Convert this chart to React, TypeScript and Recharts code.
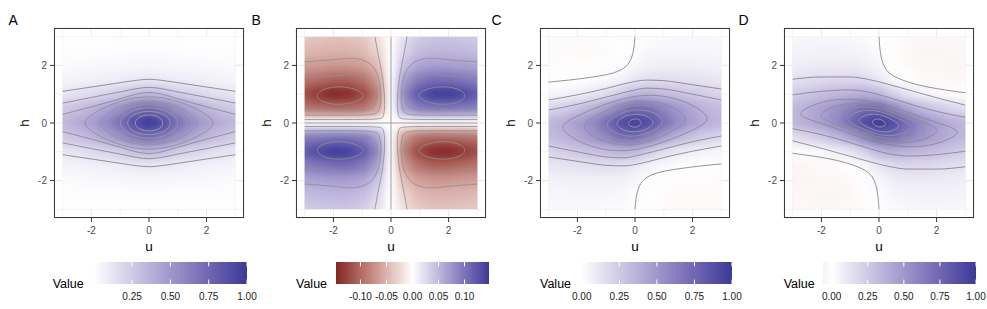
import React from 'react';
import { ScatterChart, Scatter, XAxis, YAxis, CartesianGrid } from 'recharts';

type P = [number, number];

// sample grid of the fields (u across, h from top to bottom)
const U_GRID = [-3, -2.5, -2, -1.5, -1, -0.5, 0, 0.5, 1, 1.5, 2, 2.5, 3];
const H_GRID = [3, 2.5, 2, 1.5, 1, 0.5, 0, -0.5, -1, -1.5, -2, -2.5, -3];

const VALUES_A = [
  [0.005, 0.005, 0.005, 0.005, 0.005, 0.005, 0.005, 0.005, 0.005, 0.005, 0.005, 0.005, 0.005],
  [0.01, 0.01, 0.01, 0.01, 0.012, 0.015, 0.015, 0.015, 0.012, 0.01, 0.01, 0.01, 0.01],
  [0.02, 0.025, 0.03, 0.03, 0.035, 0.04, 0.04, 0.04, 0.035, 0.03, 0.03, 0.025, 0.02],
  [0.05, 0.06, 0.07, 0.08, 0.09, 0.1, 0.11, 0.1, 0.09, 0.08, 0.07, 0.06, 0.05],
  [0.12, 0.14, 0.17, 0.2, 0.24, 0.3, 0.34, 0.3, 0.24, 0.2, 0.17, 0.14, 0.12],
  [0.25, 0.29, 0.35, 0.43, 0.53, 0.66, 0.74, 0.66, 0.53, 0.43, 0.35, 0.29, 0.25],
  [0.34, 0.39, 0.46, 0.56, 0.71, 0.9, 1.0, 0.9, 0.71, 0.56, 0.46, 0.39, 0.34],
  [0.25, 0.29, 0.35, 0.43, 0.53, 0.66, 0.74, 0.66, 0.53, 0.43, 0.35, 0.29, 0.25],
  [0.12, 0.14, 0.17, 0.2, 0.24, 0.3, 0.34, 0.3, 0.24, 0.2, 0.17, 0.14, 0.12],
  [0.05, 0.06, 0.07, 0.08, 0.09, 0.1, 0.11, 0.1, 0.09, 0.08, 0.07, 0.06, 0.05],
  [0.02, 0.025, 0.03, 0.03, 0.035, 0.04, 0.04, 0.04, 0.035, 0.03, 0.03, 0.025, 0.02],
  [0.01, 0.01, 0.01, 0.01, 0.012, 0.015, 0.015, 0.015, 0.012, 0.01, 0.01, 0.01, 0.01],
  [0.005, 0.005, 0.005, 0.005, 0.005, 0.005, 0.005, 0.005, 0.005, 0.005, 0.005, 0.005, 0.005],
];

const VALUES_B = [
  [-0.036, -0.038, -0.04, -0.04, -0.035, -0.022, 0, 0.022, 0.035, 0.04, 0.04, 0.038, 0.036],
  [-0.046, -0.048, -0.05, -0.05, -0.045, -0.03, 0, 0.03, 0.045, 0.05, 0.05, 0.048, 0.046],
  [-0.063, -0.066, -0.068, -0.068, -0.063, -0.045, 0, 0.045, 0.063, 0.068, 0.068, 0.066, 0.063],
  [-0.092, -0.098, -0.103, -0.105, -0.095, -0.07, 0, 0.07, 0.095, 0.105, 0.103, 0.098, 0.092],
  [-0.12, -0.135, -0.146, -0.143, -0.125, -0.09, 0, 0.09, 0.125, 0.143, 0.146, 0.135, 0.12],
  [-0.093, -0.097, -0.1, -0.1, -0.095, -0.07, 0, 0.07, 0.095, 0.1, 0.1, 0.097, 0.093],
  [0, 0, 0, 0, 0, 0, 0, 0, 0, 0, 0, 0, 0],
  [0.093, 0.097, 0.1, 0.1, 0.095, 0.07, 0, -0.07, -0.095, -0.1, -0.1, -0.097, -0.093],
  [0.12, 0.135, 0.146, 0.143, 0.125, 0.09, 0, -0.09, -0.125, -0.143, -0.146, -0.135, -0.12],
  [0.092, 0.098, 0.103, 0.105, 0.095, 0.07, 0, -0.07, -0.095, -0.105, -0.103, -0.098, -0.092],
  [0.063, 0.066, 0.068, 0.068, 0.063, 0.045, 0, -0.045, -0.063, -0.068, -0.068, -0.066, -0.063],
  [0.046, 0.048, 0.05, 0.05, 0.045, 0.03, 0, -0.03, -0.045, -0.05, -0.05, -0.048, -0.046],
  [0.036, 0.038, 0.04, 0.04, 0.035, 0.022, 0, -0.022, -0.035, -0.04, -0.04, -0.038, -0.036],
];

const VALUES_C = [
  [-0.018, -0.02, -0.021, -0.021, -0.018, -0.009, 0.005, 0.019, 0.028, 0.031, 0.031, 0.03, 0.028],
  [-0.02, -0.021, -0.023, -0.023, -0.017, -0.005, 0.015, 0.035, 0.041, 0.043, 0.043, 0.041, 0.04],
  [-0.021, -0.018, -0.014, -0.014, -0.006, 0.011, 0.04, 0.069, 0.076, 0.074, 0.074, 0.068, 0.061],
  [-0.01, -0.004, 0.003, 0.012, 0.028, 0.055, 0.11, 0.146, 0.152, 0.148, 0.137, 0.124, 0.11],
  [0.042, 0.052, 0.075, 0.107, 0.159, 0.242, 0.34, 0.359, 0.321, 0.293, 0.265, 0.228, 0.198],
  [0.19, 0.227, 0.285, 0.365, 0.468, 0.615, 0.74, 0.706, 0.592, 0.495, 0.415, 0.353, 0.311],
  [0.34, 0.39, 0.46, 0.56, 0.71, 0.89, 0.97, 0.89, 0.71, 0.56, 0.46, 0.39, 0.34],
  [0.311, 0.353, 0.415, 0.495, 0.592, 0.706, 0.74, 0.615, 0.468, 0.365, 0.285, 0.227, 0.19],
  [0.198, 0.228, 0.265, 0.293, 0.321, 0.359, 0.34, 0.242, 0.159, 0.107, 0.075, 0.052, 0.042],
  [0.11, 0.124, 0.137, 0.148, 0.152, 0.146, 0.11, 0.055, 0.028, 0.012, 0.003, -0.004, -0.01],
  [0.061, 0.068, 0.074, 0.074, 0.076, 0.069, 0.04, 0.011, -0.006, -0.014, -0.014, -0.018, -0.021],
  [0.04, 0.041, 0.043, 0.043, 0.041, 0.035, 0.015, -0.005, -0.017, -0.023, -0.023, -0.021, -0.02],
  [0.028, 0.03, 0.031, 0.031, 0.028, 0.019, 0.005, -0.009, -0.018, -0.021, -0.021, -0.02, -0.018],
];

const VALUES_D = [
  [0.039, 0.041, 0.043, 0.043, 0.038, 0.026, 0.005, -0.016, -0.028, -0.033, -0.033, -0.031, -0.029],
  [0.054, 0.056, 0.058, 0.058, 0.055, 0.044, 0.015, -0.014, -0.031, -0.038, -0.038, -0.036, -0.034],
  [0.08, 0.088, 0.095, 0.095, 0.095, 0.083, 0.04, -0.003, -0.025, -0.035, -0.035, -0.038, -0.04],
  [0.137, 0.153, 0.168, 0.18, 0.18, 0.167, 0.11, 0.034, 0.0, -0.02, -0.028, -0.033, -0.037],
  [0.234, 0.268, 0.309, 0.336, 0.359, 0.386, 0.34, 0.215, 0.121, 0.064, 0.031, 0.012, 0.006],
  [0.338, 0.382, 0.445, 0.525, 0.62, 0.727, 0.74, 0.594, 0.44, 0.335, 0.255, 0.198, 0.162],
  [0.34, 0.39, 0.46, 0.56, 0.71, 0.9, 1.0, 0.9, 0.71, 0.56, 0.46, 0.39, 0.34],
  [0.162, 0.198, 0.255, 0.335, 0.44, 0.594, 0.74, 0.727, 0.62, 0.525, 0.445, 0.382, 0.338],
  [0.006, 0.012, 0.031, 0.064, 0.121, 0.215, 0.34, 0.386, 0.359, 0.336, 0.309, 0.268, 0.234],
  [-0.037, -0.033, -0.028, -0.02, 0.0, 0.034, 0.11, 0.167, 0.18, 0.18, 0.168, 0.153, 0.137],
  [-0.04, -0.038, -0.035, -0.035, -0.025, -0.003, 0.04, 0.083, 0.095, 0.095, 0.095, 0.088, 0.08],
  [-0.034, -0.036, -0.038, -0.038, -0.031, -0.014, 0.015, 0.044, 0.055, 0.058, 0.058, 0.056, 0.054],
  [-0.029, -0.031, -0.033, -0.033, -0.028, -0.016, 0.005, 0.026, 0.038, 0.043, 0.043, 0.041, 0.039],
];

// contour lines
// A: upper halves of closed rings (right tip -> left tip) and upper open lines
const A_RING_09: P[] = [[0.5, 0], [0.43, 0.15], [0.25, 0.255], [0, 0.29], [-0.25, 0.255], [-0.43, 0.15], [-0.5, 0]];
const A_RING_08: P[] = [[0.78, 0], [0.66, 0.215], [0.38, 0.37], [0, 0.42], [-0.38, 0.37], [-0.66, 0.215], [-0.78, 0]];
const A_RING_07: P[] = [[1.05, 0], [0.88, 0.27], [0.5, 0.48], [0, 0.55], [-0.5, 0.48], [-0.88, 0.27], [-1.05, 0]];
const A_RING_06: P[] = [[1.4, 0], [1.13, 0.3], [0.68, 0.56], [0, 0.67], [-0.68, 0.56], [-1.13, 0.3], [-1.4, 0]];
const A_RING_05: P[] = [[1.78, 0], [1.45, 0.33], [0.86, 0.66], [0, 0.8], [-0.86, 0.66], [-1.45, 0.33], [-1.78, 0]];
const A_RING_04: P[] = [[2.36, 0], [1.95, 0.33], [1.4, 0.62], [0.7, 0.86], [0, 0.93], [-0.7, 0.86], [-1.4, 0.62], [-1.95, 0.33], [-2.36, 0]];
const A_LINE_03: P[] = [[-3, 0.3], [-2, 0.56], [-1, 0.84], [-0.45, 1.0], [0, 1.06], [0.45, 1.0], [1, 0.84], [2, 0.56], [3, 0.3]];
const A_LINE_02: P[] = [[-3, 0.69], [-2, 0.89], [-1, 1.08], [-0.45, 1.19], [0, 1.24], [0.45, 1.19], [1, 1.08], [2, 0.89], [3, 0.69]];
const A_LINE_01: P[] = [[-3, 1.1], [-2, 1.25], [-1, 1.4], [-0.45, 1.48], [0, 1.52], [0.45, 1.48], [1, 1.4], [2, 1.25], [3, 1.1]];

// B: upper-right quadrant, other quadrants are its mirror images
const B_RING_12: P[] = [[2.62, 0.95], [2.45, 1.15], [2.0, 1.27], [1.5, 1.25], [1.1, 1.13], [0.9, 0.95], [1.1, 0.78], [1.5, 0.66], [2.0, 0.63], [2.45, 0.75]];
const B_LINE_09: P[] = [[3.0, 1.57], [2.2, 1.62], [1.4, 1.66], [0.9, 1.55], [0.62, 1.3], [0.5, 0.95], [0.55, 0.65], [0.8, 0.48], [1.3, 0.44], [2.2, 0.45], [3.0, 0.46]];
const B_LINE_06: P[] = [[3.0, 2.12], [2.0, 2.2], [1.3, 2.25], [0.8, 2.1], [0.5, 1.75], [0.38, 1.3], [0.35, 0.8], [0.42, 0.45], [0.65, 0.3], [1.5, 0.27], [3.0, 0.27]];
const B_LINE_03: P[] = [[0.56, 3.0], [0.45, 2.4], [0.33, 1.8], [0.25, 1.2], [0.22, 0.6], [0.27, 0.25], [0.5, 0.14], [1.5, 0.12], [3.0, 0.12]];

// C: upper halves, lower halves are the point reflection
const C_ZERO: P[] = [[0, 3.0], [-0.04, 2.6], [-0.15, 2.2], [-0.4, 1.9], [-0.9, 1.7], [-1.6, 1.58], [-2.3, 1.49], [-3, 1.42]];
const C_LINE_01: P[] = [[-3, 0.8], [-2, 0.98], [-1, 1.2], [-0.3, 1.38], [0.4, 1.49], [1.0, 1.47], [1.8, 1.36], [3, 1.18]];
const C_LINE_02: P[] = [[-3, 0.45], [-2, 0.65], [-1, 0.9], [-0.2, 1.1], [0.4, 1.21], [1.0, 1.18], [1.9, 1.02], [3, 0.8]];
const C_RING_03: P[] = [[2.66, 0.1], [2.3, 0.45], [1.7, 0.77], [1.0, 0.95], [0.3, 0.98], [-0.4, 0.86], [-1.2, 0.6], [-2.0, 0.26], [-2.66, -0.1]];
const C_RING_04: P[] = [[1.9, 0.08], [1.55, 0.42], [1.05, 0.67], [0.45, 0.78], [-0.15, 0.76], [-0.75, 0.56], [-1.35, 0.27], [-1.9, -0.08]];
const C_RING_05: P[] = [[1.45, 0.06], [1.15, 0.35], [0.7, 0.56], [0.2, 0.63], [-0.3, 0.58], [-0.8, 0.4], [-1.2, 0.17], [-1.45, -0.06]];
const C_RING_06: P[] = [[1.05, 0.05], [0.82, 0.28], [0.45, 0.44], [0.05, 0.47], [-0.35, 0.4], [-0.75, 0.21], [-1.05, -0.05]];
const C_RING_07: P[] = [[0.68, 0.04], [0.5, 0.2], [0.25, 0.3], [-0.05, 0.31], [-0.35, 0.25], [-0.56, 0.12], [-0.68, -0.04]];
const C_RING_08: P[] = [[0.25, 0.02], [0.16, 0.12], [0.0, 0.16], [-0.16, 0.11], [-0.25, -0.02]];

// D: upper halves (left tip -> right tip), lower halves are the point reflection
const D_ZERO: P[] = [[0, 3.0], [0.05, 2.45], [0.25, 1.85], [0.8, 1.5], [1.7, 1.25], [3, 1.05]];
const D_LINE_01: P[] = [[-3, 1.52], [-2, 1.6], [-1, 1.6], [-0.4, 1.52], [0.3, 1.35], [1.2, 1.1], [2.1, 0.85], [3, 0.62]];
const D_LINE_02: P[] = [[-3, 0.98], [-2, 1.1], [-1.1, 1.15], [-0.4, 1.08], [0.3, 0.9], [1.2, 0.62], [2.1, 0.38], [3, 0.2]];
const D_RING_03: P[] = [[-2.88, 0.27], [-2.5, 0.55], [-1.9, 0.76], [-1.2, 0.85], [-0.4, 0.79], [0.5, 0.56], [1.4, 0.22], [2.2, -0.05], [2.88, -0.27]];
const D_RING_04: P[] = [[-2.15, 0.22], [-1.8, 0.5], [-1.2, 0.68], [-0.5, 0.7], [0.2, 0.55], [0.9, 0.3], [1.6, 0.0], [2.15, -0.22]];
const D_RING_05: P[] = [[-1.65, 0.16], [-1.4, 0.4], [-0.9, 0.56], [-0.3, 0.57], [0.3, 0.42], [0.9, 0.2], [1.4, 0.0], [1.65, -0.16]];
const D_RING_06: P[] = [[-1.18, 0.12], [-0.95, 0.32], [-0.55, 0.45], [-0.1, 0.44], [0.35, 0.3], [0.8, 0.1], [1.18, -0.12]];
const D_RING_07: P[] = [[-0.74, 0.08], [-0.58, 0.24], [-0.3, 0.32], [0.02, 0.3], [0.33, 0.18], [0.6, 0.04], [0.74, -0.08]];
const D_RING_08: P[] = [[-0.26, 0.04], [-0.16, 0.13], [0.0, 0.15], [0.16, 0.09], [0.26, -0.04]];

const AXIS_TICKS = [-2, 0, 2];
const BAR_BREAKS_A = [0.25, 0.5, 0.75, 1];
const BAR_BREAKS_B = [-0.1, -0.05, 0, 0.05, 0.1];
const BAR_BREAKS_CD = [0, 0.25, 0.5, 0.75, 1];

// ---- colour scale (gradient2: muted red - white - muted blue, Lab interpolation)
const LOW = '#832424';
const MID = '#ffffff';
const HIGH = '#3a3a98';

const hexRgb = (hex: string) => [1, 3, 5].map((i) => parseInt(hex.slice(i, i + 2), 16));
function toLab(hex: string) {
  const lin = (c: number) => {
    c /= 255;
    return c <= 0.04045 ? c / 12.92 : Math.pow((c + 0.055) / 1.055, 2.4);
  };
  const [r, g, b] = hexRgb(hex).map(lin);
  const X = (0.4124 * r + 0.3576 * g + 0.1805 * b) / 0.95047;
  const Y = 0.2126 * r + 0.7152 * g + 0.0722 * b;
  const Z = (0.0193 * r + 0.1192 * g + 0.9505 * b) / 1.08883;
  const f = (t: number) => (t > 216 / 24389 ? Math.cbrt(t) : ((24389 / 27) * t + 16) / 116);
  const fx = f(X), fy = f(Y), fz = f(Z);
  return [116 * fy - 16, 500 * (fx - fy), 200 * (fy - fz)];
}
function fromLab([L, a, bb]: number[]) {
  const fy = (L + 16) / 116, fx = fy + a / 500, fz = fy - bb / 200;
  const inv = (t: number) => (t * t * t > 216 / 24389 ? t * t * t : (116 * t - 16) / (24389 / 27));
  const X = inv(fx) * 0.95047, Y = inv(fy), Z = inv(fz) * 1.08883;
  const R = 3.2406 * X - 1.5372 * Y - 0.4986 * Z;
  const G = -0.9689 * X + 1.8758 * Y + 0.0415 * Z;
  const B = 0.0557 * X - 0.204 * Y + 1.057 * Z;
  const gam = (c: number) => {
    const v = c <= 0.0031308 ? 12.92 * c : 1.055 * Math.pow(c, 1 / 2.4) - 0.055;
    return Math.round(Math.min(1, Math.max(0, v)) * 255);
  };
  return `rgb(${gam(R)},${gam(G)},${gam(B)})`;
}
const LAB_LOW = toLab(LOW), LAB_MID = toLab(MID), LAB_HIGH = toLab(HIGH);
function valueFill(v: number, maxAbs: number) {
  const s = Math.max(-1, Math.min(1, v / maxAbs));
  const end = s >= 0 ? LAB_HIGH : LAB_LOW;
  const t = Math.abs(s);
  return fromLab(LAB_MID.map((m, i) => m + t * (end[i] - m)));
}

// ---- helpers to assemble the line tables
const toPts = (arr: P[]) => arr.map(([u, h]) => ({ u, h }));
const flipH = (arr: P[]): P[] => arr.map(([u, h]) => [u, -h]);
const flipU = (arr: P[]): P[] => arr.map(([u, h]) => [-u, h]);
const rot = (arr: P[]): P[] => arr.map(([u, h]) => [-u, -h]);
const loopMirror = (upper: P[]) => [...upper, ...flipH(upper).reverse().slice(1, -1)];
const loopRot = (upper: P[]) => [...upper, ...rot(upper).slice(1, -1)];

type Curve = 'basisClosed' | 'natural' | 'monotoneX' | 'linear';
interface Contour { pts: P[]; color: string; curve: Curve }

const GREYS = ['#7e7e7e', '#838383', '#888888', '#8d8d8d', '#929292', '#979797', '#9c9c9c', '#a1a1a1', '#a6a6a6'];

const contoursA: Contour[] = [
  ...[A_LINE_01, A_LINE_02, A_LINE_03].flatMap((l, i) => [
    { pts: l, color: GREYS[i], curve: 'monotoneX' as Curve },
    { pts: flipH(l), color: GREYS[i], curve: 'monotoneX' as Curve },
  ]),
  ...[A_RING_04, A_RING_05, A_RING_06, A_RING_07, A_RING_08, A_RING_09].map((r, i) => ({
    pts: loopMirror(r), color: GREYS[i + 3], curve: 'basisClosed' as Curve,
  })),
];

const B_GREY = '#8f8f8f';
const contoursB: Contour[] = [
  { pts: [[0, -3], [0, 3]], color: '#8a8a8a', curve: 'linear' },
  { pts: [[-3, 0], [3, 0]], color: '#8a8a8a', curve: 'linear' },
  ...[(x: P[]) => x, flipU, flipH, rot].flatMap((m) => [
    { pts: m(B_RING_12), color: B_GREY, curve: 'basisClosed' as Curve },
    { pts: m(B_LINE_09), color: B_GREY, curve: 'natural' as Curve },
    { pts: m(B_LINE_06), color: B_GREY, curve: 'natural' as Curve },
    { pts: m(B_LINE_03), color: B_GREY, curve: 'natural' as Curve },
  ]),
];

function tiltedContours(zero: P[], lines: P[][], rings: P[][]): Contour[] {
  return [
    { pts: zero, color: '#7a7a7a', curve: 'natural' },
    { pts: rot(zero), color: '#7a7a7a', curve: 'natural' },
    ...lines.flatMap((l, i) => [
      { pts: l, color: GREYS[i], curve: 'monotoneX' as Curve },
      { pts: rot(l).reverse(), color: GREYS[i], curve: 'monotoneX' as Curve },
    ]),
    ...rings.map((r, i) => ({ pts: loopRot(r), color: GREYS[i + 2], curve: 'basisClosed' as Curve })),
  ];
}
const contoursC = tiltedContours(C_ZERO, [C_LINE_01, C_LINE_02], [C_RING_03, C_RING_04, C_RING_05, C_RING_06, C_RING_07, C_RING_08]);
const contoursD = tiltedContours(D_ZERO, [D_LINE_01, D_LINE_02], [D_RING_03, D_RING_04, D_RING_05, D_RING_06, D_RING_07, D_RING_08]);

// ---- layout
const CH_W = 240;
const CH_H = 258;
const Y_W = 45;
const X_H = 40;
const TOP = 28;
const PLOT = 190;
const PX = PLOT / 6.6;
const CELL = 0.5 * PX;
const EXT = 12;
const FONT = '"Liberation Sans", Arial, Helvetica, sans-serif';

function HeatCell(props: any) {
  const { cx, cy, payload } = props;
  let x0 = cx - CELL / 2 - 0.4, x1 = cx + CELL / 2 + 0.4;
  let y0 = cy - CELL / 2 - 0.4, y1 = cy + CELL / 2 + 0.4;
  if (payload.u <= -3) x0 -= EXT;
  if (payload.u >= 3) x1 += EXT;
  if (payload.h >= 3) y0 -= EXT;
  if (payload.h <= -3) y1 += EXT;
  return <rect x={x0} y={y0} width={x1 - x0} height={y1 - y0} fill={payload.fill} />;
}
const NoDot = () => <g />;

const minorX = [-3, -1, 1, 3].map((v) => Y_W + (v + 3.3) * PX);
const minorY = [3, 1, -1, -3].map((v) => TOP + (3.3 - v) * PX);

interface PanelProps {
  left: number;
  grid: number[][];
  maxAbs: number;
  contours: Contour[];
}

function Panel({ left, grid, maxAbs, contours }: PanelProps) {
  const cells = H_GRID.flatMap((h, r) =>
    U_GRID.map((u, c) => ({ u, h, v: grid[r][c], fill: valueFill(grid[r][c], maxAbs) }))
  );
  return (
    <div style={{ position: 'absolute', left, top: 0 }}>
      <ScatterChart width={CH_W} height={CH_H} margin={{ top: TOP, right: CH_W - Y_W - PLOT, bottom: 0, left: 0 }}>
        <CartesianGrid stroke="#ebebeb" strokeWidth={0.6} verticalPoints={minorX} horizontalPoints={minorY} />
        <CartesianGrid stroke="#ebebeb" strokeWidth={1.1} />
        <XAxis
          type="number"
          dataKey="u"
          domain={[-3.3, 3.3]}
          ticks={AXIS_TICKS}
          height={X_H}
          axisLine={false}
          tickLine={{ stroke: '#333' }}
          tickSize={4}
          tickMargin={5}
          tick={{ fontSize: 10, fill: '#4d4d4d', fontFamily: FONT }}
          allowDataOverflow
        />
        <YAxis
          type="number"
          dataKey="h"
          domain={[-3.3, 3.3]}
          ticks={AXIS_TICKS}
          width={Y_W}
          axisLine={false}
          tickLine={{ stroke: '#333' }}
          tickSize={4}
          tickMargin={3}
          tick={{ fontSize: 10, fill: '#4d4d4d', fontFamily: FONT }}
          allowDataOverflow
        />
        <Scatter className="heat-layer" data={cells} shape={HeatCell} isAnimationActive={false} />
        {contours.map((c, i) => (
          <Scatter
            key={i}
            data={toPts(c.pts)}
            line={{ stroke: c.color, strokeWidth: 0.8 }}
            lineJointType={c.curve}
            shape={NoDot}
            isAnimationActive={false}
          />
        ))}
      </ScatterChart>
      <div
        style={{
          position: 'absolute', left: Y_W, top: TOP, width: PLOT, height: PLOT,
          border: '1px solid #3a3a3a', boxSizing: 'border-box', pointerEvents: 'none',
        }}
      />
    </div>
  );
}

interface BarProps {
  id: string;
  x0: number;
  x1: number;
  lo: number;
  hi: number;
  maxAbs: number;
  breaks: number[];
  titleX: number;
}

function ColorBar({ id, x0, x1, lo, hi, maxAbs, breaks, titleX }: BarProps) {
  const y0 = 262;
  const H = 22;
  const stops = Array.from({ length: 33 }, (_, i) => i / 32);
  const xOf = (v: number) => x0 + ((v - lo) / (hi - lo)) * (x1 - x0);
  return (
    <g>
      <defs>
        <linearGradient id={id} x1="0" x2="1" y1="0" y2="0">
          {stops.map((t) => (
            <stop key={t} offset={t} stopColor={valueFill(lo + t * (hi - lo), maxAbs)} />
          ))}
        </linearGradient>
      </defs>
      <text x={titleX} y={288} fontSize={12.5} fill="#000">Value</text>
      <rect x={x0} y={y0} width={x1 - x0} height={H} fill={`url(#${id})`} />
      {breaks.map((b) => (
        <g key={b}>
          <line x1={xOf(b)} x2={xOf(b)} y1={y0} y2={y0 + 4.4} stroke="#fff" strokeWidth={1} />
          <line x1={xOf(b)} x2={xOf(b)} y1={y0 + H - 4.4} y2={y0 + H} stroke="#fff" strokeWidth={1} />
          <text x={xOf(b)} y={300} fontSize={10} fill="#1a1a1a" textAnchor="middle">
            {b.toFixed(2)}
          </text>
        </g>
      ))}
    </g>
  );
}

const PANELS = [
  { tag: 'A', tagX: 8.5, left: 9, grid: VALUES_A, maxAbs: 1, contours: contoursA,
    bar: { x0: 95, x1: 247, lo: 0.008, hi: 1.0, breaks: BAR_BREAKS_A, titleX: 52.7 } },
  { tag: 'B', tagX: 251.5, left: 251, grid: VALUES_B, maxAbs: 0.147, contours: contoursB,
    bar: { x0: 336, x1: 489, lo: -0.147, hi: 0.147, breaks: BAR_BREAKS_B, titleX: 296 } },
  { tag: 'C', tagX: 491.5, left: 495, grid: VALUES_C, maxAbs: 1, contours: contoursC,
    bar: { x0: 581, x1: 732, lo: -0.005, hi: 1.0, breaks: BAR_BREAKS_CD, titleX: 540 } },
  { tag: 'D', tagX: 738.5, left: 739, grid: VALUES_D, maxAbs: 1, contours: contoursD,
    bar: { x0: 823, x1: 976, lo: -0.06, hi: 1.0, breaks: BAR_BREAKS_CD, titleX: 783.7 } },
];

export default function App() {
  const clipX = Y_W + 0.3 * PX;
  const clipY = TOP + 0.3 * PX;
  return (
    <div
      style={{
        position: 'absolute', left: 0, top: 0, width: 987, height: 309,
        background: '#fff', overflow: 'hidden', fontFamily: FONT,
      }}
    >
      <style>{`.heat-layer { filter: url(#heatBlur); clip-path: url(#heatClip); }`}</style>
      <svg width={0} height={0} style={{ position: 'absolute' }}>
        <defs>
          <filter id="heatBlur" x="-10%" y="-10%" width="120%" height="120%" colorInterpolationFilters="sRGB">
            <feGaussianBlur stdDeviation={4.6} />
          </filter>
          <clipPath id="heatClip" clipPathUnits="userSpaceOnUse">
            <rect x={clipX} y={clipY} width={6 * PX} height={6 * PX} />
          </clipPath>
        </defs>
      </svg>
      {PANELS.map((p) => (
        <Panel key={p.tag} left={p.left} grid={p.grid} maxAbs={p.maxAbs} contours={p.contours} />
      ))}
      <svg
        width={987}
        height={309}
        style={{ position: 'absolute', left: 0, top: 0, pointerEvents: 'none', fontFamily: FONT }}
      >
        {PANELS.map((p) => {
          const plotLeft = p.left + Y_W;
          return (
            <g key={p.tag}>
              <text x={p.tagX} y={25} fontSize={14} fill="#000">{p.tag}</text>
              <text x={plotLeft + PLOT / 2} y={250.5} fontSize={13.5} fill="#000" textAnchor="middle">u</text>
              <text
                x={plotLeft - 25.5}
                y={TOP + PLOT / 2}
                fontSize={13.5}
                fill="#000"
                textAnchor="middle"
                transform={`rotate(-90 ${plotLeft - 25.5} ${TOP + PLOT / 2})`}
              >
                h
              </text>
              <ColorBar id={`bar-${p.tag}`} maxAbs={p.maxAbs} {...p.bar} />
            </g>
          );
        })}
      </svg>
    </div>
  );
}
